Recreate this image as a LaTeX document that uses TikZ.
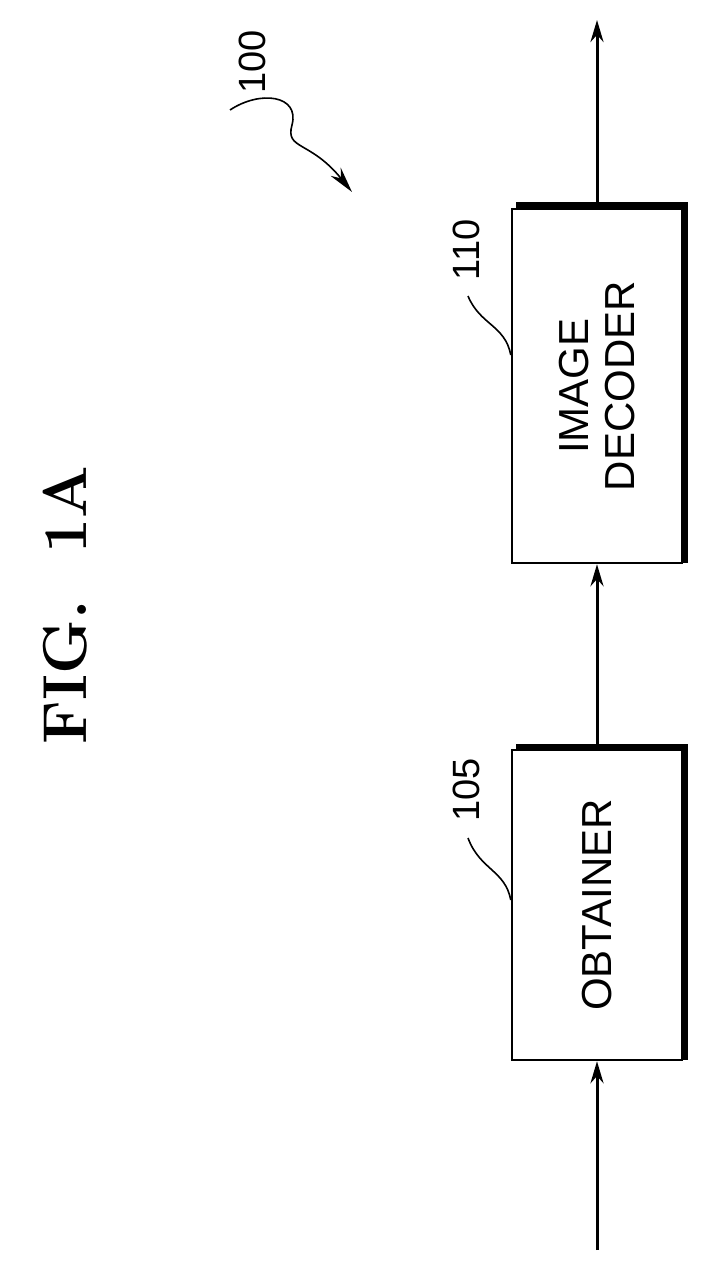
\documentclass[tikz,border=0pt]{standalone}
\usepackage{fontspec}
\setsansfont{Liberation Sans}
\usetikzlibrary{arrows.meta}
\begin{document}
\begin{tikzpicture}[x=1pt,y=-1pt,
  box/.style={draw,line width=2.4pt,minimum width=170pt,fill=white},
  lbl/.style={font=\sffamily\fontsize{42}{46}\selectfont,rotate=90,align=center},
  num/.style={font=\sffamily\fontsize{38}{40}\selectfont,rotate=90},
  arr/.style={line width=3pt,-{Stealth[length=22pt,width=13pt]}}]
\useasboundingbox (0,0) rectangle (706,1272);
% shadows
\draw[line width=6pt] (516,747) -- (685,747) -- (685,1060);
\draw[line width=6pt] (516,205) -- (685,205) -- (685,563);
\node[box,minimum height=310pt] (ob) at (597,905) {};
\node[box,minimum height=354pt] (dec) at (597,386) {};
\node[lbl] at (ob) {OBTAINER};
\node[lbl] at (dec) {IMAGE\\DECODER};
\coordinate (in) at (597,1250);
\coordinate (out) at (597,20);
\draw[arr] (in) -- (ob.south);
\draw[arr] (ob.north) -- (dec.south);
\draw[arr] (dec.north) -- (out);
\node[num] (n105) at (466,790) {105};
\node[num] (n110) at (466,250) {110};
\draw[line width=1.6pt] (ob.west |- 0,900) .. controls (505,870) and (480,870) .. (468,838);
\draw[line width=1.6pt] (dec.west |- 0,355) .. controls (505,325) and (480,325) .. (468,296);
\node[num] (n100) at (252,62) {100};
\coordinate (t) at (352,192);
\draw[line width=1.6pt,-{Stealth[length=26pt,width=13pt]}] (230,110) .. controls (260,90) and (300,95) .. (292,125) .. controls (285,150) and (310,140) .. (t);
\node[rotate=90,font=\bfseries\fontsize{62}{66}\selectfont] at (65,605) {FIG.~~1A};
\end{tikzpicture}
\end{document}
